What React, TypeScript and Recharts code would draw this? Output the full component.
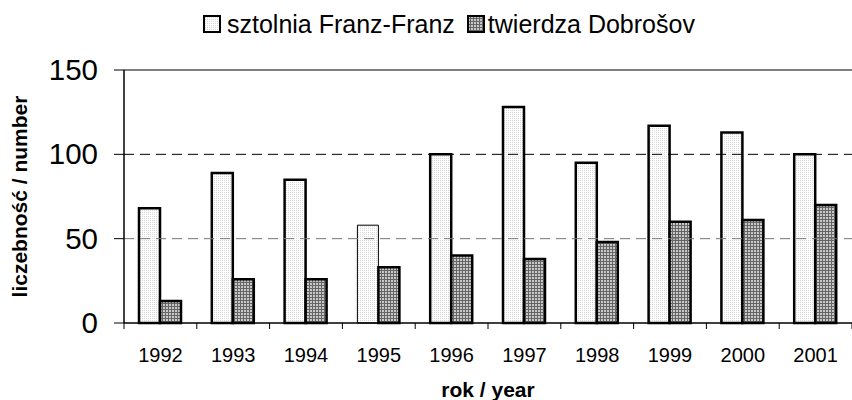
import React from "react";
import { BarChart, Bar, XAxis, YAxis, ReferenceLine, Cell } from "recharts";

const years = ["1992", "1993", "1994", "1995", "1996", "1997", "1998", "1999", "2000", "2001"];
const franz = [68, 89, 85, 58, 100, 128, 95, 117, 113, 100];
const dobrosov = [13, 26, 26, 33, 40, 38, 48, 60, 61, 70];
const yTicks = [0, 50, 100, 150];
const seriesNames = ["sztolnia Franz-Franz", "twierdza Dobrošov"];

const data = years.map((y, i) => ({ year: y, franz: franz[i], dobrosov: dobrosov[i] }));

const W = 852;
const H = 400;
const BAND = (852 - 124) / years.length;
const AXIS_Y = 323;

const Patterns = () => (
  <defs>
    <pattern id="pLight" width="2" height="2" patternUnits="userSpaceOnUse">
      <rect width="2" height="2" fill="#ffffff" />
      <rect width="1" height="1" fill="#d8d8d8" />
    </pattern>
    <pattern id="pDark" width="3" height="3" patternUnits="userSpaceOnUse">
      <rect width="3" height="3" fill="#c8c8c8" />
      <rect width="3" height="1" fill="#666666" />
      <rect width="1" height="3" fill="#666666" />
    </pattern>
  </defs>
);

const XTick = (props: any) => {
  const { x, payload, index } = props;
  const left = x - BAND / 2;
  const right = x + BAND / 2;
  return (
    <g>
      <line x1={left} y1={AXIS_Y} x2={left} y2={AXIS_Y + 6} stroke="#000" strokeWidth={1} />
      {index === years.length - 1 && (
        <line x1={right} y1={AXIS_Y} x2={right} y2={AXIS_Y + 6} stroke="#000" strokeWidth={1} />
      )}
      <text x={x} y={362} textAnchor="middle" fontSize={20} fill="#000" fontFamily="Arial, 'Liberation Sans', sans-serif">
        {payload.value}
      </text>
    </g>
  );
};

const YTick = (props: any) => {
  const { y, payload } = props;
  return (
    <text x={98} y={y + 10} textAnchor="end" fontSize={29.5} fill="#000" fontFamily="Arial, 'Liberation Sans', sans-serif">
      {payload.value}
    </text>
  );
};

const LegendBox = ({ fill }: { fill: string }) => (
  <svg width={18} height={18} style={{ display: "block" }}>
    <rect x={1} y={1} width={16} height={16} fill={fill} stroke="#000" strokeWidth={2} />
  </svg>
);

export default function App() {
  const font = "Arial, 'Liberation Sans', sans-serif";
  return (
    <div style={{ position: "absolute", left: 0, top: 0, width: W, height: H, background: "#fff" }}>
      <BarChart
        width={W}
        height={H}
        data={data}
        margin={{ top: 70, right: 0, bottom: 0, left: 0 }}
        barCategoryGap={15}
        barGap={0}
      >
        <Patterns />
        <XAxis
          dataKey="year"
          height={77}
          axisLine={{ stroke: "#000", strokeWidth: 1.5 }}
          tickLine={false}
          tick={<XTick />}
          interval={0}
          label={{ value: "rok / year", position: "insideBottom", offset: 3, fontSize: 21, fontWeight: "bold", fill: "#000", fontFamily: font }}
        />
        <YAxis
          width={124}
          domain={[0, 150]}
          ticks={yTicks}
          axisLine={{ stroke: "#000", strokeWidth: 1.5 }}
          tickLine={{ stroke: "#000" }}
          tickSize={10}
          tick={<YTick />}
          label={{ value: "liczebność / number", angle: -90, position: "insideLeft", offset: 20, fontSize: 21, fontWeight: "bold", fill: "#000", fontFamily: font, style: { textAnchor: "middle" } }}
        />
        <ReferenceLine y={150} stroke="#000" strokeWidth={1.2} />
        <ReferenceLine y={100} stroke="#000" strokeDasharray="10 6" strokeWidth={1} />
        <ReferenceLine y={50} stroke="#777" strokeDasharray="10 6" strokeWidth={1} />
        <Bar dataKey="franz" fill="url(#pLight)" stroke="#000" strokeWidth={2.5} isAnimationActive={false}>
          {data.map((d, i) => (
            <Cell key={i} strokeWidth={d.year === "1995" ? 1 : 2.5} />
          ))}
        </Bar>
        <Bar dataKey="dobrosov" fill="url(#pDark)" stroke="#000" strokeWidth={2.5} isAnimationActive={false} />
      </BarChart>
      <div
        style={{
          position: "absolute",
          left: 203,
          top: 10,
          display: "flex",
          alignItems: "center",
          fontFamily: font,
          fontSize: 25,
          color: "#000",
          whiteSpace: "nowrap",
          lineHeight: "28px",
        }}
      >
        <LegendBox fill="url(#pLight)" />
        <span style={{ marginLeft: 6, marginRight: 12 }}>{seriesNames[0]}</span>
        <LegendBox fill="url(#pDark)" />
        <span style={{ marginLeft: 3 }}>{seriesNames[1]}</span>
      </div>
    </div>
  );
}
